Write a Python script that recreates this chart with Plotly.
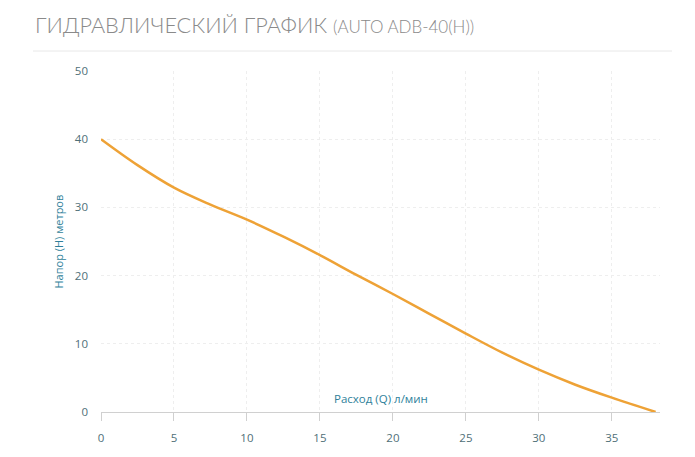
import plotly.graph_objects as go

flow_q = [0, 2.5, 5, 7.5, 10, 12.5, 15, 17.5, 20, 22.5, 25, 27.5, 30, 32.5, 35, 38]
head_h = [40, 36.2, 32.9, 30.4, 28.2, 25.7, 23.0, 20.1, 17.3, 14.4, 11.5, 8.7, 6.2, 4.0, 2.1, 0]

x_ticks = [0, 5, 10, 15, 20, 25, 30, 35]
y_ticks = [0, 10, 20, 30, 40, 50]

title_main = "ГИДРАВЛИЧЕСКИЙ ГРАФИК"
title_sub = "(AUTO ADB-40(H))"
x_title = "Расход (Q) л/мин"
y_title = "Напор (H) метров"

W, H = 695, 457
# page body has an 8px offset; positions below compensate for it
ml, mr, mt, mb = 93, 43, 63, 53

fig = go.Figure()
fig.add_trace(go.Scatter(
    x=flow_q, y=head_h, mode="lines",
    line=dict(color="#eea236", width=2.5, shape="spline", smoothing=1.0),
    hoverinfo="skip", showlegend=False,
))

fig.update_layout(
    width=W, height=H,
    margin=dict(l=ml, r=mr, t=mt, b=mb),
    paper_bgcolor="white", plot_bgcolor="white",
    font=dict(family="Open Sans, sans-serif", color="#4f6f78", size=11),
    xaxis=dict(
        range=[0, 38.3], tickvals=x_ticks, ticktext=[str(v) for v in x_ticks],
        showgrid=True, gridcolor="#eeeeee", griddash="dot", gridwidth=1,
        showline=True, linecolor="#d0d0d0", linewidth=1,
        ticks="outside", ticklen=8, tickcolor="#d0d0d0",
        ticklabelstandoff=7,
        tickfont=dict(size=11.5, color="#4f6f78"),
        zeroline=False, fixedrange=True,
    ),
    yaxis=dict(
        range=[0, 50], tickvals=y_ticks, ticktext=[str(v) for v in y_ticks],
        showgrid=True, gridcolor="#eeeeee", griddash="dot", gridwidth=1,
        showline=False, ticks="", ticklabelstandoff=12,
        tickfont=dict(size=11.5, color="#4f6f78"),
        zeroline=False, fixedrange=True,
    ),
)

pw = W - ml - mr
ph = H - mt - mb

fig.add_annotation(
    xref="paper", yref="paper", x=0.5, y=0, yshift=4,
    xanchor="center", yanchor="bottom", showarrow=False,
    text=x_title, font=dict(size=11.5, color="#2f7f9a"),
)
fig.add_annotation(
    xref="paper", yref="paper", x=0, xshift=-43, y=0.5,
    xanchor="center", yanchor="middle", showarrow=False, textangle=-90,
    text=y_title, font=dict(size=11, color="#2f7f9a"),
)
fig.add_annotation(
    xref="paper", yref="paper",
    x=(25 - ml) / pw, y=1 + (mt - 32) / ph,
    xanchor="left", yanchor="bottom", showarrow=False,
    text=(f"<span style='font-size:21.7px'>{title_main}</span> "
          f"<span style='font-size:17px'>{title_sub}</span>"),
    font=dict(family="Lato, sans-serif", color="#8a8a8a", weight=300, size=21.7),
)
fig.add_shape(
    type="line", xref="paper", yref="paper",
    x0=(25 - ml) / pw, x1=(664 - ml) / pw,
    y0=1 + (mt - 43) / ph, y1=1 + (mt - 43) / ph,
    line=dict(color="#e8e8e8", width=1),
)

fig.write_html("out.html")
